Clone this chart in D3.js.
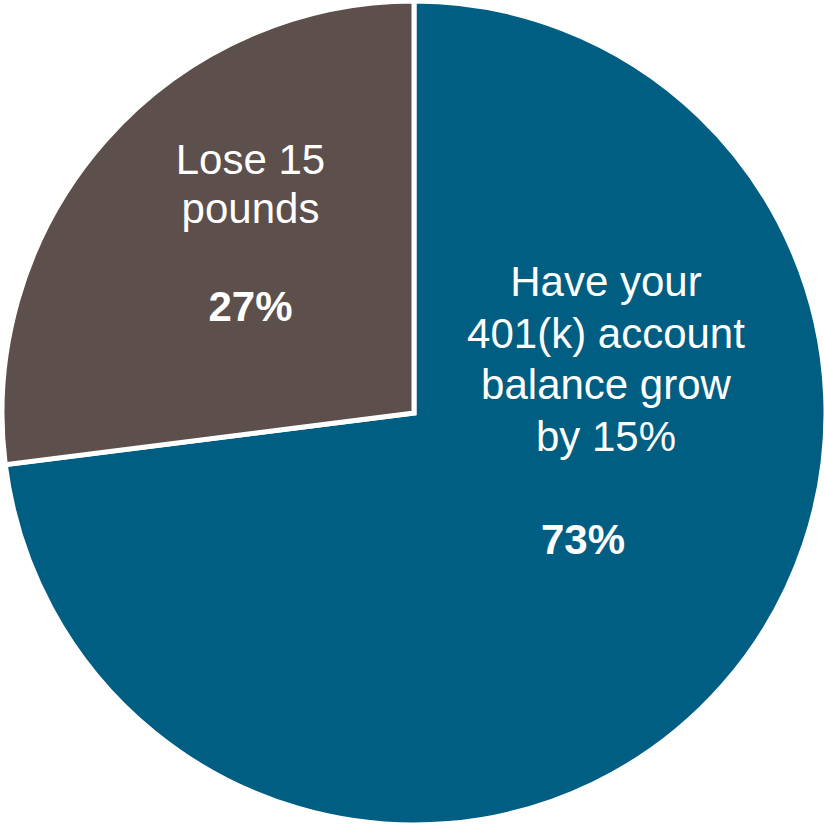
<!DOCTYPE html>
<html>
<head>
<meta charset="utf-8">
<script src="https://cdn.jsdelivr.net/npm/d3@7"></script>
<style>
  html, body { margin: 0; padding: 0; background: #ffffff; }
  svg { display: block; }
  text { font-family: "Liberation Sans", Arial, sans-serif; fill: #ffffff; }
</style>
</head>
<body>
<div id="chart"></div>
<script>
// Survey answers: which would you rather have?
const categories = ["Have your 401(k) account balance grow by 15%", "Lose 15 pounds"];
const labelLines = [["Have your", "401(k) account", "balance grow", "by 15%"], ["Lose 15", "pounds"]];
const shares = [73, 27];
const colors = ["#005e82", "#5c4f4c"];

const width = 824, height = 824;
const cx = 414, cy = 413, radius = 412;

const svg = d3.select("#chart").append("svg")
  .attr("width", width)
  .attr("height", height);

const g = svg.append("g").attr("transform", `translate(${cx},${cy})`);

const data = categories.map((c, i) => ({ name: c, value: shares[i], lines: labelLines[i], color: colors[i] }));

const pie = d3.pie().sort(null).value(d => d.value);
const arc = d3.arc().innerRadius(0).outerRadius(radius);
const arcs = pie(data);

g.selectAll("path.slice")
  .data(arcs)
  .join("path")
  .attr("class", "slice")
  .attr("d", arc)
  .attr("fill", d => d.data.color)
  .attr("stroke", "#ffffff")
  .attr("stroke-width", 5)
  .attr("stroke-linejoin", "miter");

// Label anchors (angle in radians from 12 o'clock, distance from centre)
// and horizontal nudge of the percentage line relative to the label text
const labelAnchor = [
  { angle: Math.atan2(192, 117), r: Math.hypot(192, 117), pctShift: -23 },
  { angle: -Math.atan2(163.5, 239), r: Math.hypot(163.5, 239), pctShift: 0 }
];
const fontSize = 42;
const lineH = [51.5, 49];

arcs.forEach((a, i) => {
  const [x, y] = d3.pointRadial(labelAnchor[i].angle, labelAnchor[i].r);
  const t = g.append("text")
    .attr("text-anchor", "middle")
    .attr("font-size", fontSize)
    .attr("x", x)
    .attr("y", y);
  a.data.lines.forEach((line, j) => {
    t.append("tspan")
      .attr("x", x)
      .attr("dy", j === 0 ? 0 : lineH[i])
      .text(line);
  });
  g.append("text")
    .attr("text-anchor", "middle")
    .attr("font-size", fontSize)
    .attr("font-weight", "bold")
    .attr("x", x + labelAnchor[i].pctShift)
    .attr("y", y + lineH[i] * (a.data.lines.length + 1))
    .text(`${a.data.value}%`);
});
</script>
</body>
</html>
